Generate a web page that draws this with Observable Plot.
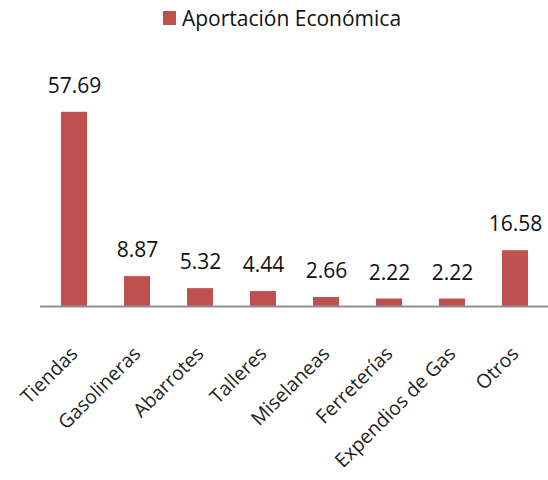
<!DOCTYPE html>
<html>
<head>
<meta charset="utf-8">
<script src="https://cdn.jsdelivr.net/npm/d3@7"></script>
<script src="https://cdn.jsdelivr.net/npm/@observablehq/plot@0.6"></script>
<style>
  html, body { margin: 0; padding: 0; background: #fff; }
  body { width: 548px; height: 480px; overflow: hidden; font-family: "Open Sans", sans-serif; }
  #legend { height: 36px; display: flex; align-items: center; justify-content: center; font-size: 21px; color: #111; padding-left: 16px; box-sizing: border-box; }
  #legend .sw { width: 13px; height: 14px; background: #C0504D; margin-right: 6px; }
</style>
</head>
<body>
<div id="legend"><span class="sw"></span><span>Aportación Económica</span></div>
<div id="chart"></div>
<script>
const categories = ["Tiendas", "Gasolineras", "Abarrotes", "Talleres", "Miselaneas", "Ferreterías", "Expendios de Gas", "Otros"];
const values = [57.69, 8.87, 5.32, 4.44, 2.66, 2.22, 2.22, 16.58];
const seriesName = "Aportación Económica";

const data = categories.map((c, i) => ({category: c, value: values[i]}));

const chart = Plot.plot({
  width: 548,
  height: 444,
  marginTop: 68,
  marginBottom: 174,
  marginLeft: 40,
  marginRight: 0,
  style: {fontFamily: "Open Sans, sans-serif", color: "#111", background: "#fff"},
  x: {domain: categories, paddingInner: 0.59, paddingOuter: 0.295, label: null},
  y: {domain: [0, 60], axis: null},
  marks: [
    Plot.barY(data, {x: "category", y: "value", fill: "#C0504D"}),
    Plot.ruleY([0], {stroke: "#8f8f8f", strokeWidth: 2}),
    Plot.text(data, {x: "category", y: "value", text: d => d.value.toFixed(2), dy: -26, fontSize: 21, fill: "#111"}),
    Plot.axisX({tickSize: 0, tickRotate: -45, tickPadding: 44, fontSize: 19.5, label: null, fill: "#222"})
  ]
});
document.getElementById("chart").appendChild(chart);
</script>
</body>
</html>
